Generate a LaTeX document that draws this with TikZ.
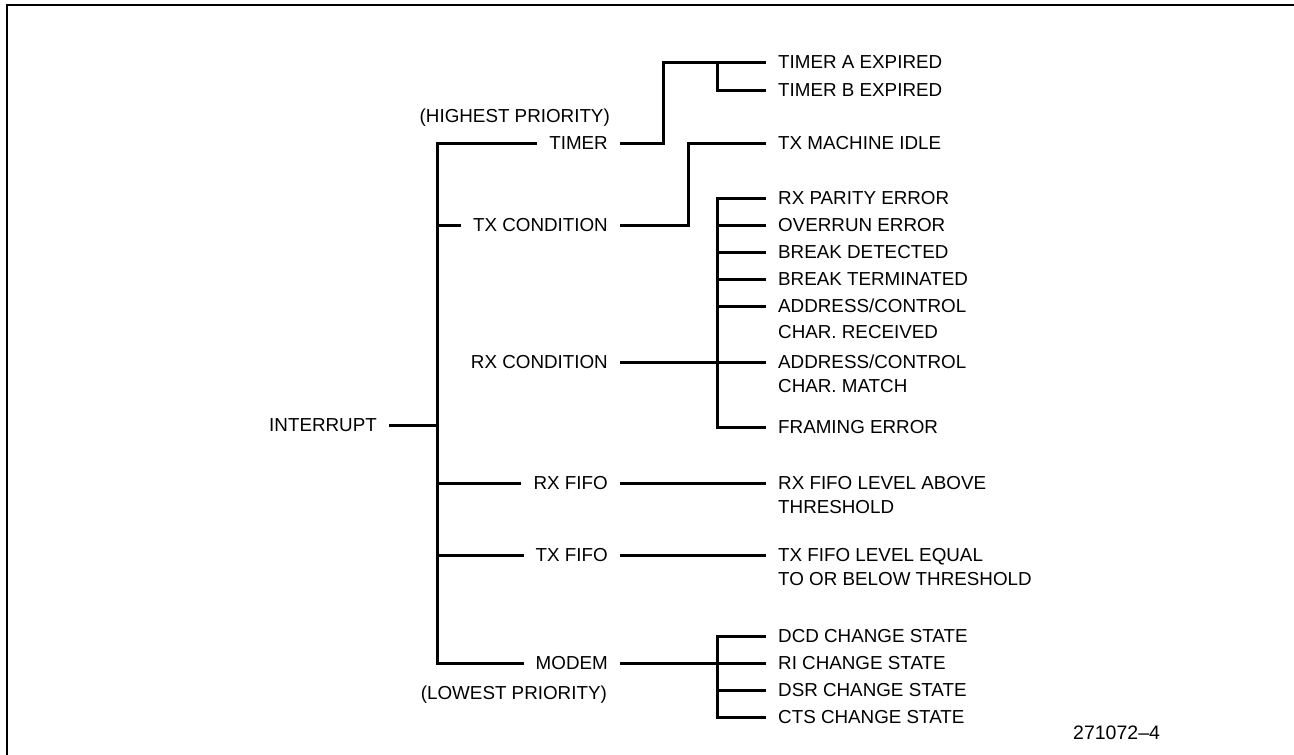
\documentclass[tikz,border=0pt]{standalone}
\usepackage{fontspec}
\setmainfont{Liberation Sans}

\begin{document}
\begin{tikzpicture}[x=1pt,y=-1pt]
\tikzset{txt/.style = {inner xsep=12pt, inner ysep=0pt, text height=13.5pt, text depth=0pt, font=\fontsize{18.8}{22}\selectfont}}
\tikzset{item/.style = {txt, anchor=west}}
\tikzset{cause/.style = {txt, anchor=east}}
\tikzset{wire/.style = {line width=3pt}}
\useasboundingbox (0,0) rectangle (1294,755);
\draw[line width=2pt] (1294,5) -- (7,5) -- (7,755);

\node[txt, anchor=east] (int) at (389,425) {INTERRUPT};

\node[cause] (tmr) at (620,143) {TIMER};
\node[cause] (txc) at (620,225) {TX CONDITION};
\node[cause] (rxc) at (620,362) {RX CONDITION};
\node[cause] (rxf) at (620,483) {RX FIFO};
\node[cause] (txf) at (620,555) {TX FIFO};
\node[cause] (mdm) at (620,663) {MODEM};
\node[txt, inner xsep=0pt, anchor=east] (hi) at (610,116) {(HIGHEST PRIORITY)};
\node[txt, inner xsep=0pt, anchor=east] (lo) at (607,693) {(LOWEST PRIORITY)};

\node[item] (ta) at (766,62) {TIMER A EXPIRED};
\node[item] (tb) at (766,90) {TIMER B EXPIRED};
\node[item] (idle) at (766,143) {TX MACHINE IDLE};
\node[item] (par) at (766,198) {RX PARITY ERROR};
\node[item] (ovr) at (766,225) {OVERRUN ERROR};
\node[item] (bdt) at (766,252) {BREAK DETECTED};
\node[item] (btm) at (766,279) {BREAK TERMINATED};
\node[item] (rcv) at (766,306) {ADDRESS/CONTROL};
\node[item] (rcv2) at (766,332) {CHAR. RECEIVED};
\node[item] (mch) at (766,362) {ADDRESS/CONTROL};
\node[item] (mch2) at (766,386) {CHAR. MATCH};
\node[item] (frm) at (766,427) {FRAMING ERROR};
\node[item] (rxl) at (766,483) {RX FIFO LEVEL ABOVE};
\node[item] (rxl2) at (766,507) {THRESHOLD};
\node[item] (txl) at (766,555) {TX FIFO LEVEL EQUAL};
\node[item] (txl2) at (766,579) {TO OR BELOW THRESHOLD};
\node[item] (dcd) at (766,636) {DCD CHANGE STATE};
\node[item] (ri) at (766,663) {RI CHANGE STATE};
\node[item] (dsr) at (766,690) {DSR CHANGE STATE};
\node[item] (cts) at (766,717) {CTS CHANGE STATE};

\node[anchor=west, inner sep=0pt, font=\fontsize{19.5}{22}\selectfont] (fig) at (1073,733) {271072--4};

% trunk and its branches
\coordinate (trunk) at (437,0);
\coordinate (fan) at (717,0);
\coordinate (tj) at (663,62);
\coordinate (xj) at (688,143);
\draw[wire] (tmr.west) -| (trunk |- mdm.west) -- (mdm.west);
\draw[wire] (int.east) -- (int.east -| trunk);
\foreach \n in {txc,rxf,txf}
  \draw[wire] (\n.west) -- (\n.west -| trunk);

% second level
\draw[wire] (tmr.east) -| (tj) -- (ta.west);
\draw[wire] (ta.west -| fan) |- (tb.west);
\draw[wire] (txc.east) -| (xj) -- (idle.west);
\draw[wire] (rxc.east) -- (mch.west);
\draw[wire] (par.west) -| (fan |- frm.west) -- (frm.west);
\foreach \n in {ovr,bdt,btm,rcv}
  \draw[wire] (\n.west) -- (\n.west -| fan);
\draw[wire] (rxf.east) -- (rxl.west);
\draw[wire] (txf.east) -- (txl.west);
\draw[wire] (mdm.east) -- (ri.west);
\draw[wire] (dcd.west) -| (fan |- cts.west) -- (cts.west);
\draw[wire] (dsr.west) -- (dsr.west -| fan);

\end{tikzpicture}
\end{document}
